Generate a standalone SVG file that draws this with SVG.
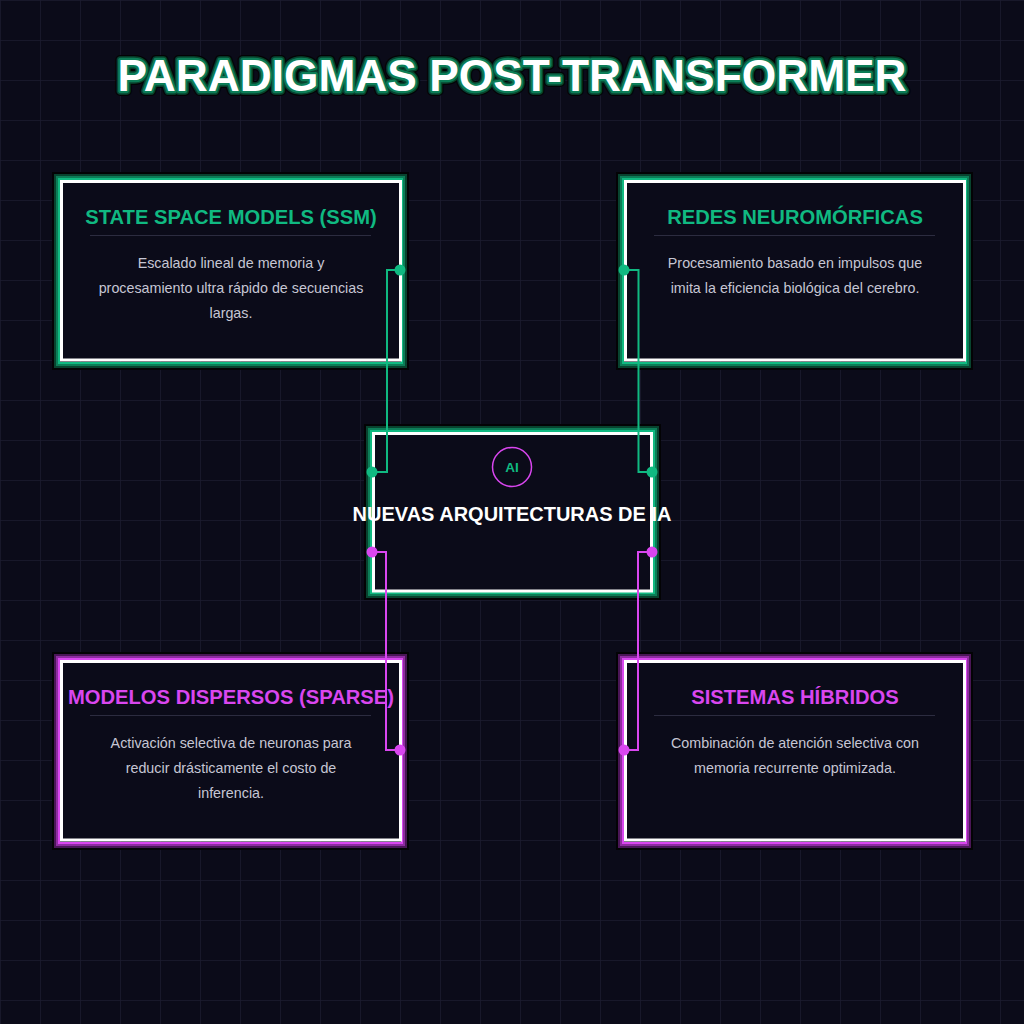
<svg xmlns="http://www.w3.org/2000/svg" width="1024" height="1024" viewBox="0 0 1024 1024">
<defs>
<pattern id="grid" width="40" height="40" patternUnits="userSpaceOnUse">
<path d="M40 0H0V40" fill="none" stroke="#1b1b2f" stroke-width="1.5"/>
</pattern>
<style>
.bg{fill:#0b0b19}
.l1{fill:none;stroke:#030305;stroke-width:2}
.g2{fill:none;stroke:#08432f;stroke-width:2}
.g3{fill:none;stroke:#0c7d57;stroke-width:2}
.g4{fill:none;stroke:#10b981;stroke-width:2}
.m2{fill:none;stroke:#4a1657;stroke-width:2}
.m3{fill:none;stroke:#8e2ca0;stroke-width:2}
.m4{fill:none;stroke:#d946ef;stroke-width:2}
.in{fill:#0b0b19;stroke:#ffffff;stroke-width:3}
.tt{font-family:"Liberation Sans",Arial,sans-serif;font-weight:bold;text-anchor:middle}
.ds{font-family:"Liberation Sans",Arial,sans-serif;font-size:14.3px;fill:#c6c6d4;text-anchor:middle}
.sep{stroke:#2c2c40;stroke-width:1}
.cg{fill:none;stroke:#10b981;stroke-width:2}
.cm{fill:none;stroke:#d946ef;stroke-width:2}
</style>
</defs>
<rect class="bg" x="0" y="0" width="1024" height="1024"/>
<rect x="0" y="0" width="1024" height="1024" fill="url(#grid)"/>

<g id="title">
<text class="tt" x="512" y="91" font-size="44.3" fill="#ffffff" stroke="#030305" stroke-width="10" stroke-linejoin="round">PARADIGMAS POST-TRANSFORMER</text>
<text class="tt" x="512" y="91" font-size="44.3" fill="#ffffff" stroke="#08432f" stroke-width="7.5" stroke-linejoin="round">PARADIGMAS POST-TRANSFORMER</text>
<text class="tt" x="512" y="91" font-size="44.3" fill="#ffffff" stroke="#0c7d57" stroke-width="4.5" stroke-linejoin="round">PARADIGMAS POST-TRANSFORMER</text>
<text class="tt" x="512" y="91" font-size="44.3" fill="#ffffff">PARADIGMAS POST-TRANSFORMER</text>
</g>

<g id="node-ssm">
<rect class="l1" x="53" y="173" width="355" height="196"/>
<rect class="g2" x="55" y="175" width="351" height="192"/>
<rect class="g3" x="57" y="177" width="347" height="188"/>
<rect class="g4" x="59" y="179" width="343" height="184"/>
<rect class="in" x="61.5" y="181.5" width="339" height="178.5"/>
<text class="tt" x="231" y="224" font-size="20.2" fill="#10b981">STATE SPACE MODELS (SSM)</text>
<line class="sep" x1="90" y1="235.5" x2="371" y2="235.5"/>
<text class="ds" x="231" y="268">Escalado lineal de memoria y</text>
<text class="ds" x="231" y="293">procesamiento ultra rápido de secuencias</text>
<text class="ds" x="231" y="318">largas.</text>
</g>

<g id="node-neuro">
<rect class="l1" x="617" y="173" width="355" height="196"/>
<rect class="g2" x="619" y="175" width="351" height="192"/>
<rect class="g3" x="621" y="177" width="347" height="188"/>
<rect class="g4" x="623" y="179" width="343" height="184"/>
<rect class="in" x="625.5" y="181.5" width="339" height="178.5"/>
<text class="tt" x="795" y="224" font-size="20.2" fill="#10b981">REDES NEUROMÓRFICAS</text>
<line class="sep" x1="654" y1="235.5" x2="935" y2="235.5"/>
<text class="ds" x="795" y="268">Procesamiento basado en impulsos que</text>
<text class="ds" x="795" y="293">imita la eficiencia biológica del cerebro.</text>
</g>

<g id="node-sparse">
<rect class="l1" x="53" y="653" width="355" height="196"/>
<rect class="m2" x="55" y="655" width="351" height="192"/>
<rect class="m3" x="57" y="657" width="347" height="188"/>
<rect class="m4" x="59" y="659" width="343" height="184"/>
<rect class="in" x="61.5" y="661.5" width="339" height="178.5"/>
<text class="tt" x="231" y="704" font-size="20.2" fill="#d946ef">MODELOS DISPERSOS (SPARSE)</text>
<line class="sep" x1="90" y1="715.5" x2="371" y2="715.5"/>
<text class="ds" x="231" y="748">Activación selectiva de neuronas para</text>
<text class="ds" x="231" y="773">reducir drásticamente el costo de</text>
<text class="ds" x="231" y="798">inferencia.</text>
</g>

<g id="node-hybrid">
<rect class="l1" x="617" y="653" width="355" height="196"/>
<rect class="m2" x="619" y="655" width="351" height="192"/>
<rect class="m3" x="621" y="657" width="347" height="188"/>
<rect class="m4" x="623" y="659" width="343" height="184"/>
<rect class="in" x="625.5" y="661.5" width="339" height="178.5"/>
<text class="tt" x="795" y="704" font-size="20.2" fill="#d946ef">SISTEMAS HÍBRIDOS</text>
<line class="sep" x1="654" y1="715.5" x2="935" y2="715.5"/>
<text class="ds" x="795" y="748">Combinación de atención selectiva con</text>
<text class="ds" x="795" y="773">memoria recurrente optimizada.</text>
</g>

<g id="node-center">
<rect class="l1" x="365" y="425" width="295" height="174"/>
<rect class="g2" x="367" y="427" width="291" height="170"/>
<rect class="g3" x="369" y="429" width="287" height="166"/>
<rect class="g4" x="371" y="431" width="283" height="162"/>
<rect class="in" x="373.5" y="433.5" width="278" height="157.5"/>
<circle cx="512" cy="467" r="19.5" fill="none" stroke="#d946ef" stroke-width="1.5"/>
<text class="tt" x="512" y="472" font-size="13.5" fill="#10b981">AI</text>
<text class="tt" x="512" y="521" font-size="20" fill="#ffffff">NUEVAS ARQUITECTURAS DE IA</text>
</g>

<g id="connectors">
<path class="cg" d="M400 270H387V472H372"/>
<circle cx="400" cy="270" r="5.5" fill="#10b981"/>
<circle cx="372" cy="472" r="5.5" fill="#10b981"/>
<path class="cg" d="M624 270H638.5V472H652"/>
<circle cx="624" cy="270" r="5.5" fill="#10b981"/>
<circle cx="652" cy="472" r="5.5" fill="#10b981"/>
<path class="cm" d="M372 552H386V750H400"/>
<circle cx="372" cy="552" r="5.5" fill="#d946ef"/>
<circle cx="400" cy="750" r="5.5" fill="#d946ef"/>
<path class="cm" d="M652 552H638V750H624"/>
<circle cx="652" cy="552" r="5.5" fill="#d946ef"/>
<circle cx="624" cy="750" r="5.5" fill="#d946ef"/>
</g>
</svg>
